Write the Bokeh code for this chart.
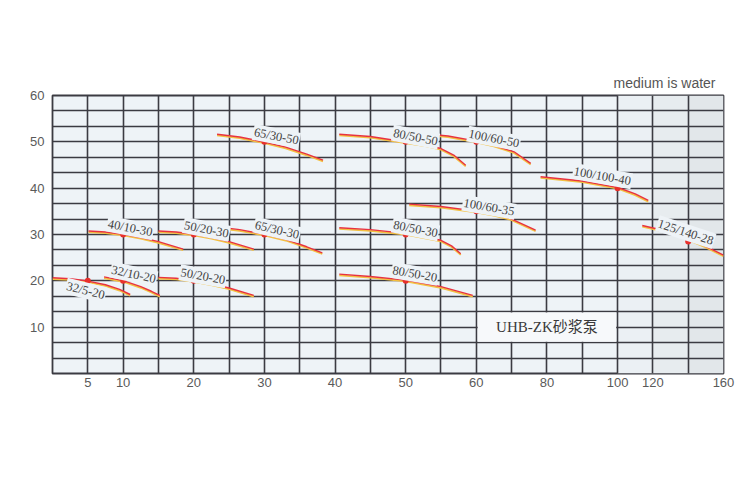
import numpy as np
from bokeh.plotting import figure
from bokeh.models import FixedTicker, ColumnDataSource
from bokeh.core.properties import value
from bokeh.embed import file_html
from bokeh.resources import INLINE

# ---------------- data ----------------
# x axis: flow Q; the chart uses a stretched scale, tick values and the grid column they sit on
x_tick_values = [5, 10, 20, 30, 40, 50, 60, 80, 100, 120, 160]
x_tick_cols = [1, 2, 4, 6, 8, 10, 12, 14, 16, 17, 19]
y_tick_values = [10, 20, 30, 40, 50, 60]

models = ["32/5-20", "32/10-20", "40/10-30", "50/20-30", "65/30-30", "50/20-20",
          "65/30-50", "80/50-50", "80/50-30", "80/50-20", "100/60-35", "100/60-50",
          "100/100-40", "125/140-28"]

q_32_5_20 = [0, 2.5, 5, 7.5, 9.5, 11.0]
h_32_5_20 = [20.6, 20.4, 19.9, 19.1, 18.1, 17.0]
q_32_10_20 = [7.3, 10, 12.5, 14, 15.2]
h_32_10_20 = [20.8, 20.0, 18.7, 17.7, 16.8]
q_40_10_30 = [5.1, 7.5, 10, 12.5, 15, 18.5]
h_40_10_30 = [30.7, 30.5, 30.0, 29.3, 28.4, 26.8]
q_50_20_30 = [15, 17.5, 20, 22.5, 25, 28.5]
h_50_20_30 = [30.7, 30.5, 30.0, 29.3, 28.4, 26.8]
q_65_30_30 = [23.3, 26.5, 30, 33, 36, 38.2]
h_65_30_30 = [31.6, 31.0, 30.0, 28.9, 27.3, 26.0]
q_50_20_20 = [15, 17.5, 20, 22.5, 25, 28.5]
h_50_20_20 = [20.7, 20.5, 20.0, 19.3, 18.4, 16.8]
q_65_30_50 = [23.3, 26.5, 30, 33, 36, 38.3]
h_65_30_50 = [51.6, 51.0, 49.9, 48.8, 47.3, 46.0]
q_80_50_50 = [40.6, 45, 50, 53, 55, 56.8, 58.5]
h_80_50_50 = [51.6, 51.1, 49.9, 49.2, 48.5, 47.1, 44.9]
q_80_50_30 = [40.6, 45, 50, 55, 56.5, 57.8]
h_80_50_30 = [31.4, 31.0, 30.2, 28.7, 27.5, 25.8]
q_80_50_20 = [40.6, 45, 50, 55, 59.5]
h_80_50_20 = [21.4, 20.9, 20.1, 18.7, 16.8]
q_100_60_35 = [50.5, 55, 60, 65, 69.7, 76.8]
h_100_60_35 = [36.5, 36.0, 35.0, 34.3, 33.4, 30.9]
q_100_60_50 = [52.6, 56, 60.1, 65, 70.7, 75.4]
h_100_60_50 = [51.7, 51.2, 50.1, 49.2, 47.8, 45.3]
q_100_100_40 = [78.2, 90, 100.2, 110, 117.4]
h_100_100_40 = [42.4, 41.5, 40.1, 38.7, 37.3]
q_125_140_28 = [114, 130, 140.6, 150, 160.4]
h_125_140_28 = [31.9, 30.5, 28.9, 27.4, 25.5]

# rated (duty) points marked with a dot
rated_q = [5, 10, 10, 20, 30, 20, 30, 50, 50, 50, 60, 60, 100, 140]
rated_h = [20, 20, 30, 30, 30, 20, 50, 50, 30, 20, 35, 50, 40, 28.5]

title_text = "UHB-ZK砂浆泵"
note_text = "medium is water"

# ---------------- layout of the curve labels (Q, H, angle) ----------------
label_q = [4.7, 11.5, 11.0, 21.8, 31.8, 21.3, 31.7, 51.4, 51.4, 51.3, 63.6, 65, 95.7, 138.6]
label_h = [17.9, 21.4, 31.4, 31.1, 31.0, 21.0, 51.2, 51.0, 31.2, 21.5, 35.9, 50.7, 42.6, 30.5]
label_ang = [-14, -12, -11, -11, -13, -10, -11, -11, -11, -10, -10, -11, -10, -18]

curves_q = [q_32_5_20, q_32_10_20, q_40_10_30, q_50_20_30, q_65_30_30, q_50_20_20,
            q_65_30_50, q_80_50_50, q_80_50_30, q_80_50_20, q_100_60_35, q_100_60_50,
            q_100_100_40, q_125_140_28]
curves_h = [h_32_5_20, h_32_10_20, h_40_10_30, h_50_20_30, h_65_30_30, h_50_20_20,
            h_65_30_50, h_80_50_50, h_80_50_30, h_80_50_20, h_100_60_35, h_100_60_50,
            h_100_100_40, h_125_140_28]


def col(q):
    """map flow onto the chart's stretched (piecewise) x scale"""
    return np.interp(q, [0] + x_tick_values, [0] + x_tick_cols)


BG = "#eef3f7"
GRID = "#3b3b42"
SANS = "Liberation Sans"
SERIF = "Liberation Serif"

p = figure(width=750, height=500, output_backend="svg", toolbar_location=None,
           x_range=(0, 19), y_range=(0, 60),
           min_border_left=52, min_border_right=27, min_border_top=95, min_border_bottom=127)
p.background_fill_color = BG
p.border_fill_color = "white"
p.outline_line_color = GRID
p.outline_line_width = 1.8

# note above the chart, right aligned
p.title.text = note_text
p.title.align = "right"
p.title.text_font = SANS
p.title.text_font_style = "normal"
p.title.text_font_size = "14px"
p.title.text_color = "#555555"
p.title.offset = 8

# grid: every column / every 10/3 m
p.xgrid.ticker = FixedTicker(ticks=list(range(1, 19)))
p.ygrid.ticker = FixedTicker(ticks=[10 * i / 3 for i in range(1, 18)])
for g in (p.xgrid, p.ygrid):
    g.grid_line_color = GRID
    g.grid_line_width = 1.6
    g.grid_line_alpha = 1.0

# axes
p.xaxis.ticker = FixedTicker(ticks=x_tick_cols)
p.xaxis.major_label_overrides = {c: str(v) for c, v in zip(x_tick_cols, x_tick_values)}
p.yaxis.ticker = FixedTicker(ticks=y_tick_values)
for ax in (p.xaxis, p.yaxis):
    ax.axis_line_color = None
    ax.major_tick_line_color = None
    ax.minor_tick_line_color = None
    ax.major_tick_out = 0
    ax.major_tick_in = 0
    ax.minor_tick_out = 0
    ax.minor_tick_in = 0
    ax.major_label_text_font = SANS
    ax.major_label_text_font_size = "13px"
    ax.major_label_text_color = "#5a5a5a"
p.xaxis.major_label_standoff = 4
p.yaxis.major_label_standoff = 8

# slight scan shading towards the right edge
p.quad(left=[16, 17, 18], right=[17, 18, 19], bottom=[0, 0, 0], top=[60, 60, 60],
       fill_color=["#ebf0f4", "#e7ecef", "#e2e7ea"], line_color=None, level="underlay")

# white box for the series name
p.quad(left=[col(60) + 0.04], right=[col(100) - 0.04], bottom=[10 / 3 * 2 + 0.18],
       top=[10 / 3 * 4 - 0.18], fill_color="#f7f9fb", line_color=None)
p.text(x=[col(80)], y=[10], text=[title_text],
       text_font=value("Liberation Serif, Noto Sans CJK SC"),
       text_font_size="15px", text_color="#3a3a3a", text_align="center",
       text_baseline="middle")

# curves: yellow shadow + red line
for qs, hs in zip(curves_q, curves_h):
    xs = col(np.array(qs, dtype=float))
    hs = np.array(hs, dtype=float)
    p.line(xs, hs - 0.2, line_color="#f3c040", line_width=1.8)
    p.line(xs, hs + 0.05, line_color="#e83240", line_width=1.4)

p.scatter(col(np.array(rated_q, dtype=float)), rated_h, size=6, fill_color="#e8302c",
          line_color=None)

src = ColumnDataSource(dict(x=col(np.array(label_q, dtype=float)), y=label_h,
                            t=models, a=label_ang))
p.text(x="x", y="y", text="t", angle="a", angle_units="deg", source=src,
       text_font=value(SERIF), text_font_size="12.5px", text_color="#444444",
       text_align="center", text_baseline="middle",
       background_fill_color=BG, padding=1)

open("out.html", "w").write(file_html(p, INLINE))
